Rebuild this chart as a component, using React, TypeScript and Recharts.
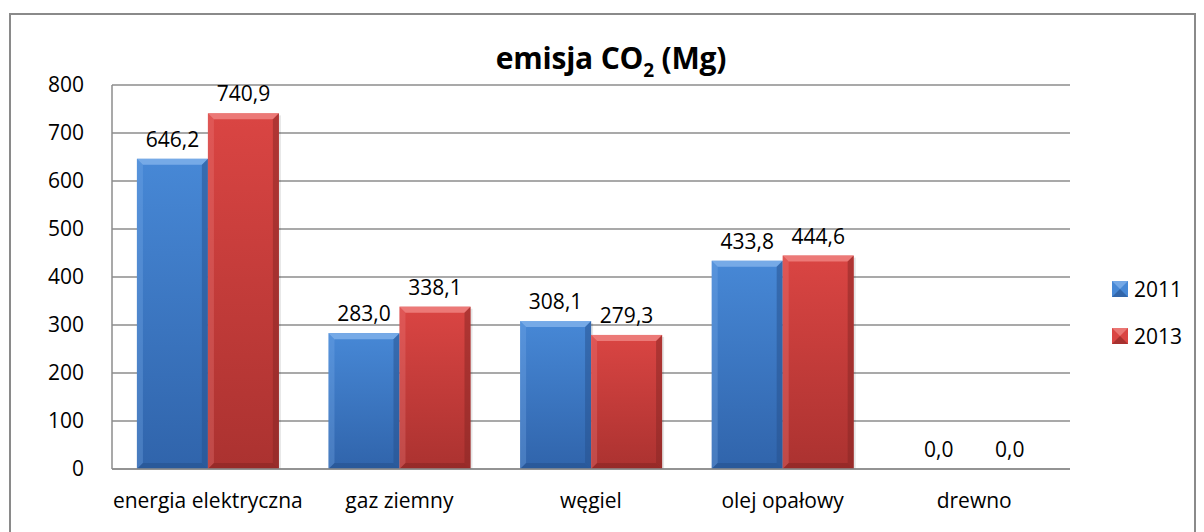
import React from "react";
import { BarChart, Bar, XAxis, YAxis, CartesianGrid, LabelList, Legend } from "recharts";

const categories = ["energia elektryczna", "gaz ziemny", "węgiel", "olej opałowy", "drewno"];
const values2011 = [646.2, 283.0, 308.1, 433.8, 0.0];
const values2013 = [740.9, 338.1, 279.3, 444.6, 0.0];
const yTicks = [0, 100, 200, 300, 400, 500, 600, 700, 800];

const data = categories.map((name, i) => ({ name, y2011: values2011[i], y2013: values2013[i] }));

const FONT = "'Open Sans', sans-serif";

const palettes: Record<string, { top: string; bottom: string; light: string; dark: string }> = {
  blue: { top: "#4788d6", bottom: "#3064ab", light: "#7fb0ea", dark: "#25508c" },
  red: { top: "#da4543", bottom: "#ab3230", light: "#ee8280", dark: "#862523" },
};

const bevelShape = (key: string) => (props: any) => {
  const { x, y, width: w, height: h } = props;
  if (!h || h <= 0) return <g />;
  const p = palettes[key];
  const b = Math.min(6, h / 2);
  return (
    <g>
      <rect x={x + 2} y={y + 2} width={w} height={h - 2} fill="#000" opacity={0.1} />
      <rect x={x} y={y} width={w} height={h} fill={`url(#grad-${key})`} />
      <polygon points={`${x},${y} ${x + w},${y} ${x + w - b},${y + b} ${x + b},${y + b}`} fill={p.light} opacity={0.85} />
      <polygon points={`${x},${y} ${x + b},${y + b} ${x + b},${y + h - b} ${x},${y + h}`} fill={p.light} opacity={0.3} />
      <polygon points={`${x + w},${y} ${x + w - b},${y + b} ${x + w - b},${y + h - b} ${x + w},${y + h}`} fill={p.dark} opacity={0.5} />
      <polygon points={`${x},${y + h} ${x + b},${y + h - b} ${x + w - b},${y + h - b} ${x + w},${y + h}`} fill={p.dark} opacity={0.55} />
    </g>
  );
};

const fmt = (v: any) => Number(v).toFixed(1).replace(".", ",");

const LegendBox = () => (
  <div style={{ fontFamily: FONT, fontSize: 21, color: "#000" }}>
    {[
      { key: "blue", label: "2011" },
      { key: "red", label: "2013" },
    ].map((it) => (
      <div key={it.label} style={{ display: "flex", alignItems: "center", height: 47 }}>
        <svg width={16} height={16} style={{ marginRight: 6 }}>
          <rect x={0} y={0} width={16} height={16} fill={palettes[it.key].top} />
          <polygon points="0,0 16,0 8,8" fill={palettes[it.key].light} opacity={0.8} />
          <polygon points="0,16 16,16 8,8" fill={palettes[it.key].dark} opacity={0.6} />
        </svg>
        <span>{it.label}</span>
      </div>
    ))}
  </div>
);

export default function App() {
  return (
    <div style={{ position: "absolute", left: 0, top: 0, width: 1204, height: 532, background: "#fff", overflow: "hidden" }}>
      <div
        style={{
          position: "absolute",
          left: 9,
          top: 13,
          width: 1187,
          height: 540,
          border: "2px solid #8a8a8a",
          boxSizing: "border-box",
        }}
      />
      <div
        style={{
          position: "absolute",
          left: 9,
          top: 44,
          width: 1204,
          textAlign: "center",
          fontFamily: FONT,
          fontWeight: 700,
          fontSize: 30,
          lineHeight: "28px",
          color: "#000",
          letterSpacing: -0.2,
        }}
      >
        emisja CO<span style={{ fontSize: 19, position: "relative", top: 8 }}>2</span> (Mg)
      </div>
      <BarChart
        width={1204}
        height={532}
        data={data}
        margin={{ top: 85, right: 44, left: 0, bottom: 28 }}
        barCategoryGap="13%"
        barGap={0}
        style={{ position: "absolute", left: 0, top: 0 }}
      >
        <defs>
          {Object.entries(palettes).map(([k, p]) => (
            <linearGradient key={k} id={`grad-${k}`} x1="0" y1="0" x2="0" y2="1">
              <stop offset="0%" stopColor={p.top} />
              <stop offset="100%" stopColor={p.bottom} />
            </linearGradient>
          ))}
        </defs>
        <CartesianGrid vertical={false} stroke="#8c8c8c" strokeWidth={1.5} />
        <XAxis
          dataKey="name"
          axisLine={{ stroke: "#8c8c8c", strokeWidth: 1.5 }}
          tickLine={false}
          tick={{ fill: "#000", fontSize: 21, fontFamily: FONT }}
          tickMargin={18}
          height={35}
          interval={0}
        />
        <YAxis
          domain={[0, 800]}
          ticks={yTicks}
          width={112}
          axisLine={{ stroke: "#8c8c8c", strokeWidth: 1.5 }}
          tickLine={false}
          tick={{ fill: "#000", fontSize: 21, fontFamily: FONT }}
          tickMargin={22}
        />
        <Legend
          layout="vertical"
          verticalAlign="top"
          align="right"
          content={<LegendBox />}
          wrapperStyle={{ position: "absolute", left: 1112, top: 265, width: 90 }}
        />
        <Bar dataKey="y2011" name="2011" fill="#3c7dd0" shape={bevelShape("blue")} isAnimationActive={false}>
          <LabelList dataKey="y2011" position="top" offset={12} formatter={fmt} style={{ fill: "#000", fontSize: 21, fontFamily: FONT }} />
        </Bar>
        <Bar dataKey="y2013" name="2013" fill="#d63c3c" shape={bevelShape("red")} isAnimationActive={false}>
          <LabelList dataKey="y2013" position="top" offset={12} formatter={fmt} style={{ fill: "#000", fontSize: 21, fontFamily: FONT }} />
        </Bar>
      </BarChart>
    </div>
  );
}
